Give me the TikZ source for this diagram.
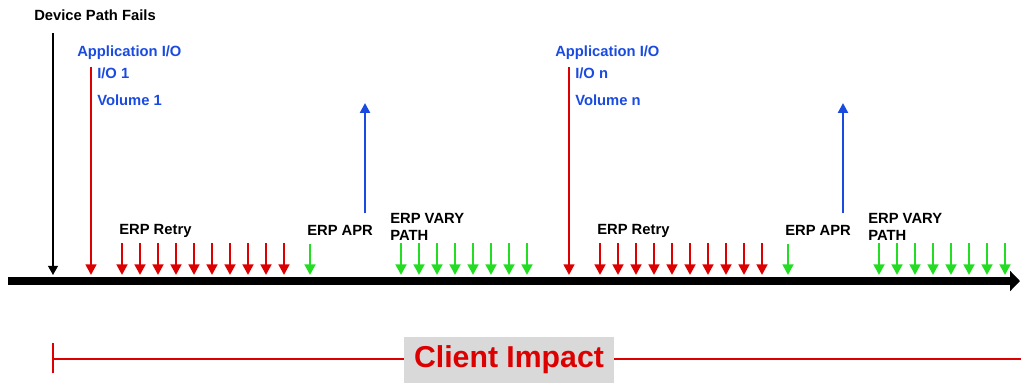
\documentclass[tikz,border=0pt]{standalone}
\usepackage{fontspec}
\setmainfont{Liberation Sans}
\usetikzlibrary{arrows.meta}
\definecolor{ImpactRed}{HTML}{DD0000}
\definecolor{AprGreen}{HTML}{22DD22}
\definecolor{AppBlue}{HTML}{1A4BE0}
\definecolor{ImpactGray}{HTML}{D9D9D9}

\begin{document}
\begin{tikzpicture}[x=0.025cm, y=-0.025cm, font=\bfseries\fontsize{10.5}{11.8}\selectfont,
    lbl/.style={anchor=base west, inner sep=0pt, align=left},
    applbl/.style={lbl, text=AppBlue},
    redarr/.style={-{Triangle[width=7.5pt,length=7.5pt]}, line width=2pt, ImpactRed},
    greenarr/.style={-{Triangle[width=7.5pt,length=7.5pt]}, line width=2pt, AprGreen},
    bluearr/.style={-{Triangle[width=7pt,length=7pt]}, line width=1.6pt, AppBlue}]
  \useasboundingbox (0,0) rectangle (1021,383);

  % time axis
  \coordinate (t0) at (8,281);
  \coordinate (t1) at (1020,281);
  \coordinate (hit) at (0,275);
  \draw[line width=5pt, -{Triangle[width=14pt,length=7pt]}] (t0) -- (t1);

  % device path fails
  \node[lbl] (fail) at (34,20) {Device Path Fails};
  \coordinate (failtop) at (53,33);
  \draw[-{Triangle[width=7pt,length=6.5pt]}, line width=1.1pt] (failtop) -- (failtop |- hit);

  % two I/O blocks, one period apart
  \foreach \o/\n in {0/1, 478/n} {
    \node[applbl] (app\n) at (77+\o,56.5) {Application I/O};
    \node[applbl] (io\n) at (97+\o,78) {I/O \n};
    \node[applbl] (vol\n) at (97+\o,105) {Volume \n};
    \coordinate (iotop\n) at (91+\o,67);
    \draw[redarr, line width=1.6pt] (iotop\n) -- (iotop\n |- hit);

    \node[lbl] (retry\n) at (119+\o,234) {ERP Retry};
    \foreach \i in {0,...,9} {
      \coordinate (ra\n\i) at ({122+\o+18*\i},243);
      \draw[redarr] (ra\n\i) -- (ra\n\i |- hit);
    }

    \node[lbl] (apr\n) at (307+\o,235) {ERP APR};
    \coordinate (aprtop\n) at (310+\o,244);
    \draw[greenarr] (aprtop\n) -- (aprtop\n |- hit);
    \coordinate (up\n) at (365+\o,213);
    \coordinate (uptip\n) at (365+\o,103);
    \draw[bluearr] (up\n) -- (uptip\n);

    \node[lbl] (vary\n) at (390+\o,240) {ERP VARY\\PATH};
    \foreach \i in {0,...,7} {
      \coordinate (va\n\i) at ({401+\o+18*\i},243);
      \draw[greenarr] (va\n\i) -- (va\n\i |- hit);
    }
  }

  % client impact
  \coordinate (ci0) at (53,359);
  \coordinate (ci1) at (1021,359);
  \coordinate (tick0) at (53,343);
  \coordinate (tick1) at (53,373);
  \draw[ImpactRed, line width=2.1pt] (ci0) -- (ci1);
  \draw[ImpactRed, line width=1.2pt] (tick0) -- (tick1);
  \node[fill=ImpactGray, text=ImpactRed, inner sep=0pt, minimum width=150pt, minimum height=32.6pt,
        font=\bfseries\fontsize{21.5}{24}\selectfont] (impact) at (509,360) {Client Impact};
\end{tikzpicture}
\end{document}
